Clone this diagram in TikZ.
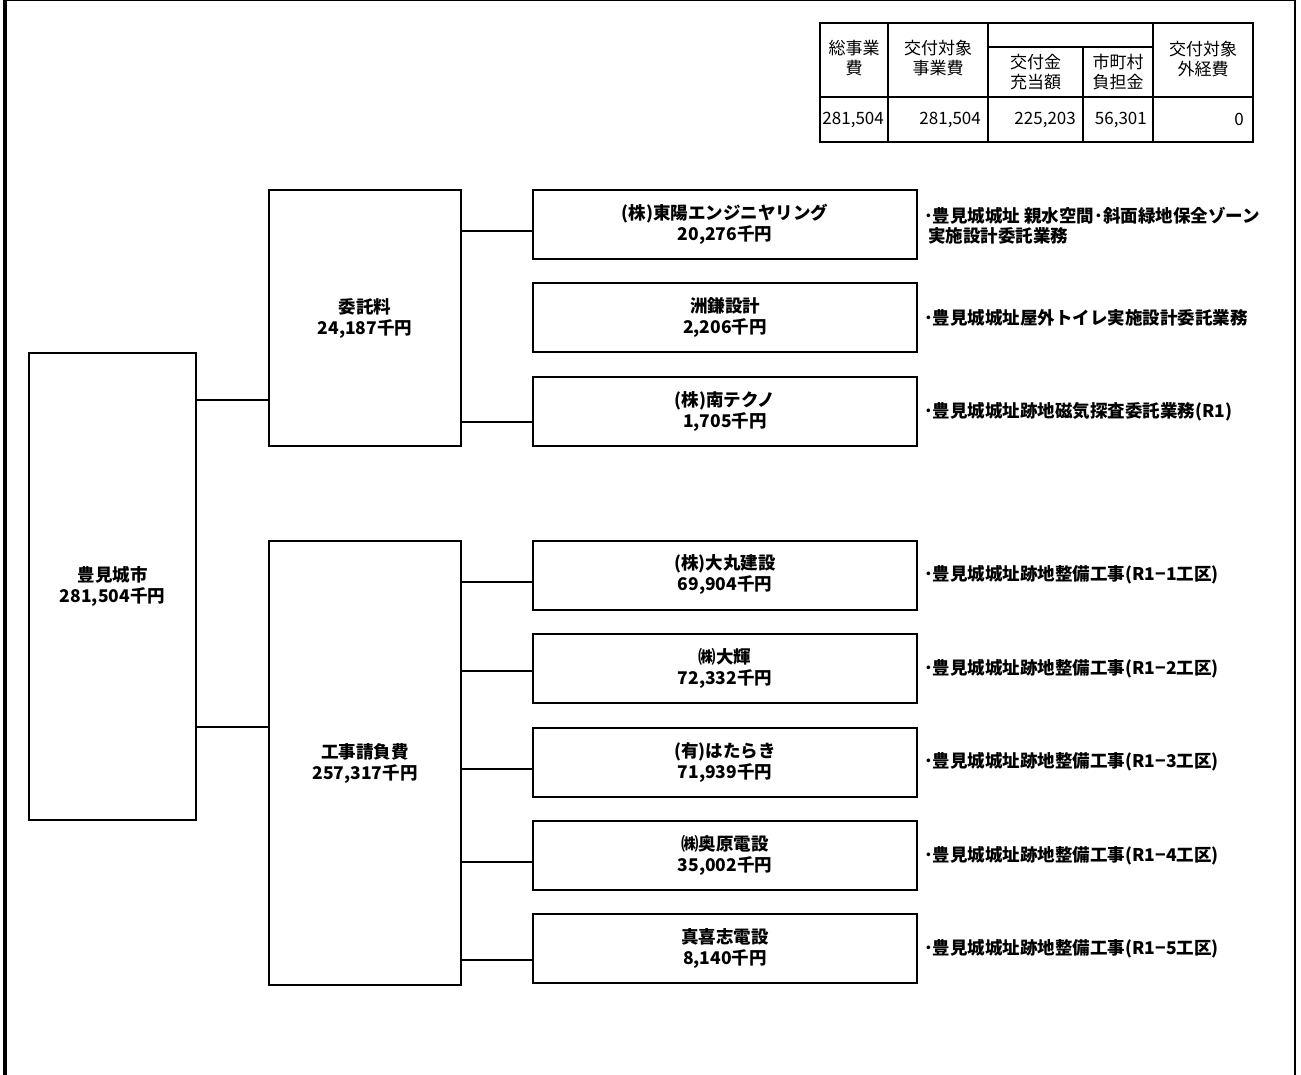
\documentclass[tikz,border=0pt]{standalone}
\usepackage{fontspec}
\newfontfamily\jpfont{Noto Sans CJK JP}
\usepackage{tikz}
\usetikzlibrary{positioning}

\tikzset{
  frameline/.style={line width=2pt},
  orgbox/.style={draw, line width=2pt, align=center, inner sep=0pt,
    font=\jpfont\bfseries\fontsize{17.5}{21}\selectfont},
  firmbox/.style={orgbox, minimum width=384pt, minimum height=69pt},
  worknote/.style={align=left, inner sep=0pt,
    font=\jpfont\bfseries\fontsize{17.5}{20}\selectfont},
  headcell/.style={align=center, inner sep=0pt,
    font=\jpfont\fontsize{17}{20.5}\selectfont},
  valcell/.style={anchor=east, inner sep=0pt,
    font=\jpfont\fontsize{17}{20}\selectfont},
}

\begin{document}
\begin{tikzpicture}[x=1pt, y=-1pt]
  \useasboundingbox (0,0) rectangle (1301,1075);

  % Page frame
  \draw[line width=1.2pt] (3,0.8) -- (1295,0.8);
  \draw[line width=4pt] (4.7,0) -- (4.7,1075);
  \draw[frameline] (1295,0) -- (1295,1075);

  % Cost table
  \draw[frameline] (820,23) rectangle (1253,142);
  \draw[frameline] (820,97) -- (1253,97);
  \draw[frameline] (888,23) -- (888,142);
  \draw[frameline] (988,23) -- (988,142);
  \draw[frameline] (1153,23) -- (1153,142);
  \draw[frameline] (988,47) -- (1153,47);
  \draw[frameline] (1083,47) -- (1083,142);

  \node[headcell] (htotal) at (854,58) {総事業\\費};
  \node[headcell] (htarget) at (938,58) {交付対象\\事業費};
  \node[headcell] (hgrant) at (1035.5,72) {交付金\\充当額};
  \node[headcell] (hcity) at (1118,72) {市町村\\負担金};
  \node[headcell] (hother) at (1203,59) {交付対象\\外経費};

  \node[valcell] (vtotal) at (884,119.5) {281,504};
  \node[valcell] (vtarget) at (981,119.5) {281,504};
  \node[valcell] (vgrant) at (1076,119.5) {225,203};
  \node[valcell] (vcity) at (1147,119.5) {56,301};
  \node[valcell] (vother) at (1244,119.5) {0};

  % City and cost items
  \node[orgbox, minimum width=167pt, minimum height=467pt] (city) at (112.5,586.5) {豊見城市\\281,504千円};
  \node[orgbox, minimum width=192pt, minimum height=256pt] (itaku) at (365,318) {委託料\\24,187千円};
  \node[orgbox, minimum width=192pt, minimum height=444pt] (koji) at (365,763) {工事請負費\\257,317千円};

  % Contractors
  \node[firmbox] (toyo) at (725,224.5) {(株)東陽エンジニヤリング\\20,276千円};
  \node[firmbox] (sugama) at (725,317.5) {洲鎌設計\\2,206千円};
  \node[firmbox] (minami) at (725,411.5) {(株)南テクノ\\1,705千円};
  \node[firmbox] (daimaru) at (725,575) {(株)大丸建設\\69,904千円};
  \node[firmbox] (daiki) at (725,668.5) {㈱大輝\\72,332千円};
  \node[firmbox] (hataraki) at (725,762) {(有)はたらき\\71,939千円};
  \node[firmbox] (okuhara) at (725,855.5) {㈱奥原電設\\35,002千円};
  \node[firmbox] (makishi) at (725,948.5) {真喜志電設\\8,140千円};

  % Work descriptions
  \node[worknote, right=6pt of toyo, yshift=-1pt] (toyonote) {･豊見城城址 親水空間･斜面緑地保全ゾーン\\\hspace*{4pt}実施設計委託業務};
  \node[worknote, right=6pt of sugama] (sugamanote) {･豊見城城址屋外トイレ実施設計委託業務};
  \node[worknote, right=6pt of minami] (minaminote) {･豊見城城址跡地磁気探査委託業務(R1)};
  \node[worknote, right=6pt of daimaru] (daimarunote) {･豊見城城址跡地整備工事(R1−1工区)};
  \node[worknote, right=6pt of daiki] (daikinote) {･豊見城城址跡地整備工事(R1−2工区)};
  \node[worknote, right=6pt of hataraki] (hatarakinote) {･豊見城城址跡地整備工事(R1−3工区)};
  \node[worknote, right=6pt of okuhara] (okuharanote) {･豊見城城址跡地整備工事(R1−4工区)};
  \node[worknote, right=6pt of makishi] (makishinote) {･豊見城城址跡地整備工事(R1−5工区)};

  % Connectors
  \coordinate (lnitaku) at (0,400);
  \coordinate (lnkoji) at (0,727);
  \draw[frameline] (city.east |- lnitaku) -- (itaku.west |- lnitaku);
  \draw[frameline] (city.east |- lnkoji) -- (koji.west |- lnkoji);

  \coordinate (lntoyo) at (0,231);
  \coordinate (lnminami) at (0,422);
  \draw[frameline] (itaku.east |- lntoyo) -- (toyo.west |- lntoyo);
  \draw[frameline] (itaku.east |- lnminami) -- (minami.west |- lnminami);

  \coordinate (lndaimaru) at (0,582);
  \coordinate (lndaiki) at (0,671);
  \coordinate (lnhataraki) at (0,769);
  \coordinate (lnokuhara) at (0,862);
  \coordinate (lnmakishi) at (0,960);
  \draw[frameline] (koji.east |- lndaimaru) -- (daimaru.west |- lndaimaru);
  \draw[frameline] (koji.east |- lndaiki) -- (daiki.west |- lndaiki);
  \draw[frameline] (koji.east |- lnhataraki) -- (hataraki.west |- lnhataraki);
  \draw[frameline] (koji.east |- lnokuhara) -- (okuhara.west |- lnokuhara);
  \draw[frameline] (koji.east |- lnmakishi) -- (makishi.west |- lnmakishi);
\end{tikzpicture}
\end{document}
